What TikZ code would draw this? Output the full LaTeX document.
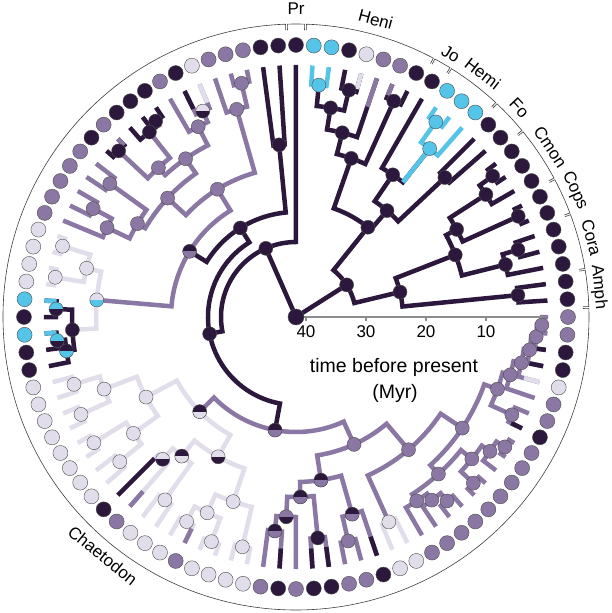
\documentclass[tikz,border=0pt]{standalone}
\usepackage{fontspec}
\setmainfont{Liberation Sans}
\usetikzlibrary{positioning}

\definecolor{cD}{RGB}{44,24,60}
\definecolor{cP}{RGB}{139,119,163}
\definecolor{cL}{RGB}{226,221,235}
\definecolor{cC}{RGB}{84,196,232}

\tikzset{
  dkb/.style={draw=cD, line width=4.5},
  pub/.style={draw=cP, line width=4.5},
  ltb/.style={draw=cL, line width=4.5},
  cyb/.style={draw=cC, line width=4.5},
  tipdot/.style={circle, draw=black!70, line width=0.4, minimum size=15, inner sep=0},
  ancdot/.style={circle, draw=black!70, line width=0.4, minimum size=14, inner sep=0},
  bracket/.style={draw=black!75, line width=0.6},
  grouplab/.style={font=\fontsize{17}{20}\selectfont, inner sep=0},
  axisline/.style={draw=black!45, line width=1.3},
}

% clade: [style]{radius}{angle a}{end radius a}{angle b}{end radius b}
\newcommand{\clade}[6][dkb]{%
  \draw[#1] (#3:#4) -- (#3:#2) arc[start angle=#3, end angle=#5, radius=#2] -- (#5:#6);}

\begin{document}
\begin{tikzpicture}[x=1pt,y=1pt]
    \useasboundingbox (-296,-296) rectangle (316,317);
    \fill[white] (-296,-296) rectangle (316,317);

    % outer brackets
    \foreach \s/\e in {3.75/7.5, 11.25/18.75, 22.5/26.25, 30/37.5, 41.25/45,
                       48.75/56.25, 60/60, 63.75/86.25, 90/90, 93.75/360}
        \draw[bracket] ({\s-1.7}:287) -- ({\s-1.7}:293)
            arc[start angle=\s-1.7, end angle=\e+1.7, radius=293] -- ({\e+1.7}:287);
    \node[grouplab] (lAmph) at (5.625:304) [rotate=-84.4] {Amph};
    \node[grouplab] (lCora) at (15:306) [rotate=-75] {Cora};
    \node[grouplab] (lCops) at (24.375:306) [rotate=-65.6] {Cops};
    \node[grouplab] (lCmon) at (33.75:306) [rotate=-56.2] {Cmon};
    \node[grouplab] (lFo) at (43.125:306) [rotate=-46.9] {Fo};
    \node[grouplab] (lHemi) at (52.5:307) [rotate=-37.5] {Hemi};
    \node[grouplab] (lJo) at (59.5:305) [rotate=-30.5] {Jo};
    \node[grouplab] (lHeni) at (75:308) [rotate=-15] {Heni};
    \node[grouplab] (lPr) at (90:308) {Pr};
    \node[grouplab] (lChaet) at (231:307) [rotate=-39] {Chaetodon};

    % right clade
    \clade{223}{3.75}{252}{7.5}{252}
    \clade{232}{15}{252}{18.75}{252}
    \clade{216}{11.25}{252}{16.875}{232}
    \clade{244}{22.5}{252}{26.25}{252}
    \clade{242}{33.75}{252}{37.5}{252}
    \clade{226}{30}{252}{35.625}{242}
    \clade{183}{24.375}{244}{32.81}{226}
    \clade{171}{14.06}{216}{28.6}{183}
    \clade{107}{5.625}{223}{21.3}{171}
    \clade{204}{41.25}{252}{45}{252}
    \clade[cyb]{240}{52.5}{252}{56.25}{252}
    \clade[cyb]{215}{48.75}{252}{54.375}{240}
    \clade{172}{51.56}{215}{60}{252}
    \draw[cyb] (51.56:172) -- (51.56:215);
    \clade{140}{43.125}{204}{55.78}{172}
    \clade{237}{63.75}{252}{67.5}{252}
    \clade{233}{75}{252}{78.75}{252}
    \clade[cyb]{233}{82.5}{252}{86.25}{252}
    \clade{212}{76.875}{233}{84.375}{233}
    \clade{190}{71.25}{252}{80.6}{212}
    \clade{168}{65.625}{237}{75.9}{190}
    \clade{115}{49.45}{140}{70.8}{168}
    \clade{60}{13.5}{107}{51.3}{115}
    \draw[dkb] (32.4:60) -- (0,0) -- (113.7:75);

    % Pr and Chaetodon
    \clade{75}{90}{252}{191}{88}
    \clade{88}{122}{105}{259.5}{115}
    \clade{105}{95.6}{173}{148.3}{125}
    \clade{173}{93.75}{252}{97.5}{252}
    \clade[pub]{125}{121.6}{150}{175.1}{200}
    \clade[pub]{150}{105.94}{216}{137.2}{175}
    \clade[pub]{240}{101.25}{252}{105}{252}
    \clade[pub]{216}{103.125}{240}{108.75}{252}
    \clade[pub]{175}{124.9}{193}{149.5}{184}
    \clade[pub]{193}{117.19}{214}{132.66}{203}
    \clade[pub]{226}{112.5}{252}{116.25}{252}
    \clade[pub]{214}{114.375}{226}{120}{252}
    \clade[dkb]{241}{123.75}{252}{127.5}{252}
    \clade[dkb]{236}{125.625}{241}{131.25}{252}
    \clade[dkb]{243}{135}{252}{138.75}{252}
    \clade[pub]{203}{128.4}{236}{136.875}{243}
    \clade[pub]{184}{144.375}{229}{154.7}{209}
    \clade[pub]{229}{142.5}{252}{146.25}{252}
    \clade[pub]{230}{150}{252}{153.75}{252}
    \clade[pub]{209}{151.875}{230}{157.5}{252}
    \clade[ltb]{200}{166.9}{215}{183.3}{224}
    \clade[ltb]{215}{163.125}{244}{170.625}{244}
    \clade[ltb]{244}{161.25}{252}{165}{252}
    \clade[ltb]{244}{168.75}{252}{172.5}{252}
    \clade[dkb]{224}{178.125}{240}{188.4}{232}
    \clade[dkb]{240}{176.25}{252}{180}{252}
    \clade[dkb]{240}{183.75}{252}{187.5}{252}
    \clade[dkb]{232}{185.625}{240}{191.25}{252}
    % lower Chaetodon
    \clade[pub]{115}{224.5}{135}{294.5}{140}
    \clade[ltb]{135}{208.1}{170}{240.9}{160}
    \clade[ltb]{170}{200.6}{205}{215.6}{200}
    \clade[ltb]{205}{196.875}{232}{204.375}{236}
    \clade[ltb]{232}{195}{252}{198.75}{252}
    \clade[ltb]{236}{202.5}{252}{206.25}{252}
    \clade[ltb]{200}{211.875}{238}{219.375}{228}
    \clade[ltb]{238}{210}{252}{213.75}{252}
    \clade[ltb]{228}{217.5}{252}{221.25}{252}
    \clade[ltb]{160}{230.6}{180}{251.2}{195}
    \clade[ltb]{180}{226.875}{195}{234.375}{225}
    \clade[ltb]{195}{225}{252}{228.75}{252}
    \clade[ltb]{225}{232.5}{252}{236.25}{252}
    \clade[ltb]{195}{245.6}{215}{256.875}{236}
    \clade[ltb]{215}{241.875}{232}{249.375}{240}
    \clade[ltb]{232}{240}{252}{243.75}{252}
    \clade[ltb]{240}{247.5}{252}{251.25}{252}
    \clade[ltb]{236}{255}{252}{258.75}{252}
    \clade[pub]{140}{278.7}{165}{310.3}{174}
    \clade[pub]{165}{271.4}{180}{285.9}{205}
    \clade[pub]{180}{267.2}{200}{275.625}{222}
    \clade[pub]{200}{264.375}{215}{270}{252}
    \clade[pub]{215}{262.5}{252}{266.25}{252}
    \clade[pub]{222}{273.75}{252}{277.5}{252}
    \clade[pub]{205}{283.125}{230}{288.75}{252}
    \clade[pub]{230}{281.25}{252}{285}{252}
    \clade[pub]{174}{294.375}{225}{326.25}{200}
    \clade[ltb]{225}{292.5}{252}{296.25}{252}
    \clade[pub]{200}{312.2}{212}{340.3}{214}
    \clade[pub]{212}{303.28}{220}{321.1}{226}
    \clade[pub]{220}{300}{252}{306.56}{228}
    \clade[pub]{228}{303.75}{252}{309.375}{238}
    \clade[pub]{238}{307.5}{252}{311.25}{252}
    \clade[pub]{226}{316.875}{243}{325.3}{236}
    \clade[pub]{243}{315}{252}{318.75}{252}
    \clade[pub]{236}{322.5}{252}{328.125}{246}
    \clade[pub]{246}{326.25}{252}{330}{252}
    \clade[pub]{214}{335.625}{237}{344.9}{222}
    \clade[pub]{237}{333.75}{252}{337.5}{252}
    \clade[pub]{222}{341.25}{252}{348.5}{230}
    \clade[pub]{230}{345}{252}{352}{236}
    \clade[pub]{236}{348.75}{252}{355.3}{241}
    \clade[pub]{241}{352.5}{252}{358.125}{246}
    \clade[pub]{246}{356.25}{252}{360}{252}

    % tip segments with another state
    \foreach \a/\r/\s in {67.5/240/pub, 71.25/222/pub, 75/236/ltb, 112.5/232/ltb,
                          116.25/232/dkb, 135/243/pub, 176.25/240/cyb, 183.75/240/cyb,
                          225/200/dkb, 228.75/232/pub, 243.75/236/pub,
                          266.25/232/dkb, 273.75/232/dkb, 277.5/232/dkb, 288.75/232/dkb,
                          333.75/240/dkb, 345/236/ltb, 348.75/238/dkb, 352.5/243/dkb}
        \draw[\s] (\a:\r) -- (\a:252);

    % time axis
    \draw[axisline] (0,0) -- (247,0);
    \foreach \t in {40,30,20,10}
        \draw[axisline] ({250-6*\t},0) -- ({250-6*\t},-4)
            node[below=1pt, font=\fontsize{17}{20}\selectfont] (tick\t) {\t};
    \node[font=\fontsize{19.5}{22}\selectfont] (axtitle) at (98,-50) {time before present};
    \node[font=\fontsize{19.5}{22}\selectfont] (axunit) at (99,-76) {(Myr)};

    % ancestral states
    \foreach \a/\r/\c [count=\i] in {5.625/223/D, 16.875/232/D, 14.06/216/D, 24.375/244/D,
        35.625/242/D, 32.81/226/D, 28.6/183/D, 21.3/171/D, 13.5/107/D, 43.125/204/D,
        54.375/240/C, 51.56/215/C, 55.78/172/D, 49.45/140/D, 65.625/237/D, 76.875/233/D,
        84.375/233/C, 80.6/212/D, 75.9/190/D, 70.8/168/D, 51.3/115/D, 32.4/60/D,
        113.7/75/D, 191/88/D, 122/105/D, 95.6/173/D,
        121.6/150/P, 105.94/216/P, 103.125/240/P, 137.2/175/P, 117.19/214/P,
        125.625/241/D, 128.4/236/D, 136.875/243/D, 132.66/203/P, 124.9/193/P,
        144.375/229/P, 151.875/230/P, 154.7/209/P, 149.5/184/P,
        163.125/244/L, 170.625/244/L, 166.9/215/L, 183.3/224/D,
        196.875/232/L, 204.375/236/L, 200.6/205/L, 211.875/238/L, 219.375/228/L,
        215.6/200/L, 208.1/170/L, 234.375/225/L, 241.875/232/L, 249.375/240/L,
        245.6/215/L, 256.875/236/L, 251.2/195/L, 294.5/140/P, 275.625/222/D,
        283.125/230/P, 294.375/225/L, 310.3/174/P, 326.25/200/P,
        312.2/212/P, 303.28/220/P, 306.56/228/P, 309.375/238/P, 321.1/226/P,
        316.875/243/P, 325.3/236/P, 328.125/246/P,
        340.3/214/P, 335.625/237/P, 344.9/222/P, 348.5/230/P, 352/236/P,
        355.3/241/P, 358.125/246/P}
        \node[ancdot, fill=c\c] (n\i) at (\a:\r) {};
    % mixed states
    \foreach \a/\r/\c/\d [count=\i] in {114.375/226/L/D, 175.1/200/L/C, 178.125/240/C/D,
        185.625/240/C/D, 188.4/232/D/C, 226.875/195/L/D, 230.6/180/D/L, 240.9/160/L/D,
        264.375/215/D/P, 267.2/200/P/D, 271.4/180/D/P, 285.9/205/D/P, 278.7/165/D/P,
        224.5/135/D/L, 259.5/115/D/P, 148.3/125/D/P}
        \node[ancdot, fill=c\c, path picture={\fill[c\d] (path picture bounding box.west)
            rectangle (path picture bounding box.south east);}] (m\i) at (\a:\r) {};
    \node[ancdot, fill=cD, minimum size=16] (root) at (0,0) {};

    % tip states
    \foreach \c [count=\k from 0] in {P,D,D,D,D,D,D,D,D,D, D,D,D,C,C,C,D,D,P,P,
        L,D,C,C,D,D,D,P,P,P, L,D,P,D,D,D,P,D,P,P, P,P,P,L,L,L,L,C,D,C,
        D,D,L,L,L,L,L,L,L,L, D,P,L,L,L,P,L,L,L,L, P,D,P,D,D,P,P,D,L,L,
        P,P,P,P,P,P,P,P,P,D, P,P,L,D,D,P}
        \node[tipdot, fill=c\c] (t\k) at ({3.75*\k}:272) {};
\end{tikzpicture}
\end{document}
